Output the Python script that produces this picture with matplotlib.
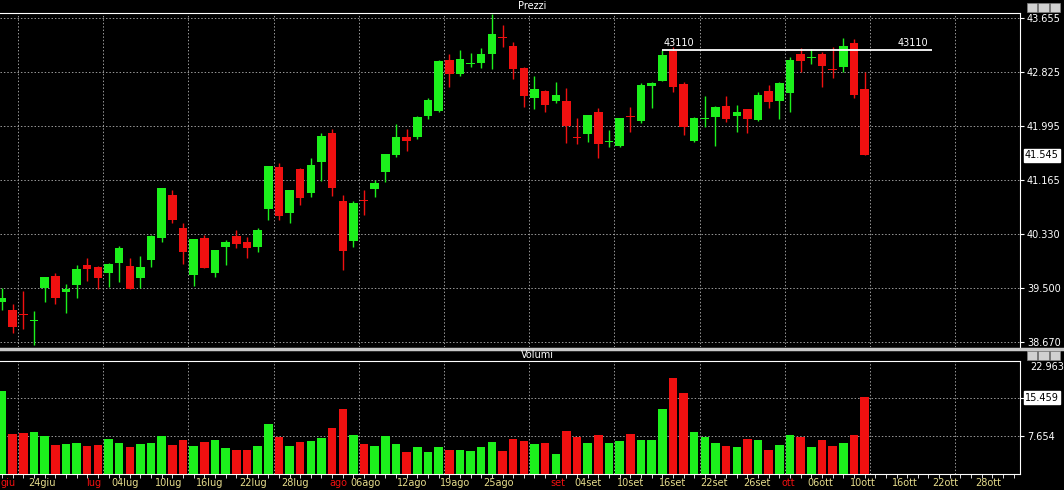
import matplotlib
matplotlib.use("Agg")
import matplotlib.pyplot as plt
import numpy as np

# OHLC per trading day (index 0..81)
opens = [39.286, 39.163, 39.10, 39.00, 39.497, 39.686, 39.440, 39.547, 39.860, 39.829,
         39.737, 39.890, 39.840, 39.660, 39.932, 40.266, 40.932, 40.429, 39.701, 40.266,
         39.737, 40.137, 40.296, 40.209, 40.137, 40.717, 41.368, 40.660, 41.327, 40.968,
         41.435, 41.890, 40.840, 40.229, 40.850, 41.024, 41.290, 41.547, 41.829, 41.829,
         42.147, 42.224, 43.009, 42.793, 42.940, 42.958, 43.096, 43.360, 43.229, 42.881,
         42.429, 42.532, 42.378, 42.383, 41.820, 41.866, 42.209, 41.745, 41.686, 42.140,
         42.070, 42.614, 42.690, 43.152, 42.640, 41.763, 42.105, 42.137, 42.301, 42.152,
         42.250, 42.086, 42.527, 42.383, 42.506, 43.096, 43.045, 43.096, 42.860, 42.906,
         43.266, 42.563]
closes = [39.347, 38.897, 39.09, 39.01, 39.666, 39.352, 39.481, 39.798, 39.798, 39.660,
          39.870, 40.121, 39.486, 39.829, 40.301, 41.035, 40.547, 40.060, 40.255, 39.814,
          40.086, 40.209, 40.174, 40.121, 40.394, 41.378, 40.614, 41.009, 40.890, 41.393,
          41.840, 41.044, 40.075, 40.804, 40.835, 41.112, 41.558, 41.820, 41.767, 42.137,
          42.393, 42.993, 42.793, 43.024, 42.955, 43.101, 43.404, 43.350, 42.866, 42.455,
          42.563, 42.316, 42.470, 41.994, 41.810, 42.158, 41.716, 41.750, 42.112, 42.130,
          42.624, 42.660, 43.086, 42.589, 41.983, 42.112, 42.115, 42.290, 42.101, 42.209,
          42.101, 42.470, 42.367, 42.650, 43.009, 42.998, 43.055, 42.917, 42.855, 43.224,
          42.470, 41.545]
highs = [39.50, 39.255, 39.46, 39.152, 39.67, 39.727, 39.563, 39.855, 39.958, 39.84,
         39.88, 40.147, 39.958, 39.993, 40.31, 41.04, 41.016, 40.497, 40.26, 40.317,
         40.09, 40.24, 40.393, 40.29, 40.43, 41.38, 41.42, 41.01, 41.343, 41.506,
         41.89, 41.943, 40.932, 40.844, 41.009, 41.163, 41.56, 42.02, 41.943, 42.14,
         42.42, 43.01, 43.096, 43.163, 43.112, 43.189, 43.717, 43.548, 43.281, 42.906,
         42.767, 42.54, 42.675, 42.573, 42.112, 42.16, 42.266, 41.932, 42.12, 42.281,
         42.65, 42.675, 43.163, 43.214, 42.675, 42.137, 42.455, 42.30, 42.46, 42.32,
         42.26, 42.52, 42.624, 42.675, 43.06, 43.189, 43.174, 43.137, 43.214, 43.343,
         43.327, 42.829]
lows = [39.16, 38.804, 38.87, 38.62, 39.29, 39.25, 39.112, 39.343, 39.609, 39.486,
        39.521, 39.598, 39.48, 39.497, 39.829, 40.214, 40.497, 39.866, 39.537, 39.81,
        39.675, 39.855, 40.112, 39.967, 40.05, 40.547, 40.547, 40.506, 40.778, 40.906,
        41.152, 40.917, 39.778, 40.127, 40.624, 40.897, 41.137, 41.52, 41.613, 41.793,
        42.10, 42.21, 42.598, 42.763, 42.897, 42.881, 42.866, 43.214, 42.712, 42.29,
        42.25, 42.214, 42.352, 41.737, 41.717, 41.752, 41.497, 41.665, 41.665, 41.906,
        42.035, 42.275, 42.68, 42.521, 41.855, 41.75, 41.983, 41.686, 42.05, 41.906,
        41.89, 42.07, 42.266, 42.096, 42.214, 42.829, 42.947, 42.589, 42.737, 42.82,
        42.429, 41.54]
volumes = [16.8, 8.2, 8.4, 8.5, 7.6, 5.9, 6.1, 6.3, 5.6, 5.9,
           7.1, 6.3, 5.5, 6.1, 6.3, 7.6, 5.9, 6.8, 5.7, 6.4,
           6.8, 5.3, 4.9, 4.9, 5.7, 10.1, 7.4, 5.6, 6.4, 6.6,
           7.2, 9.4, 13.2, 7.8, 6.1, 5.7, 7.6, 6.1, 4.5, 5.5,
           4.5, 5.5, 4.9, 4.9, 4.7, 5.5, 6.4, 4.7, 7.0, 6.6,
           6.1, 6.2, 4.1, 8.8, 7.4, 6.2, 8.0, 6.2, 6.6, 8.2,
           6.8, 6.8, 13.1, 19.5, 16.5, 8.5, 7.4, 6.2, 5.7, 5.5,
           7.0, 6.9, 4.9, 5.9, 8.0, 7.4, 5.5, 6.8, 5.7, 6.2,
           8.0, 15.5]

price_ticks = [38.670, 39.500, 40.330, 41.165, 41.995, 42.825, 43.655]
vol_ticks = [7.654, 15.459]
vol_top_label = 22.963
last_price = 41.545
last_volume = 15.459
level = 43.163
level_label = "43110"
level_span = [62, 87.3]

date_labels = ["giu", "24giu", "lug", "04lug", "10lug", "16lug", "22lug", "28lug",
               "ago", "06ago", "12ago", "19ago", "25ago", "set", "04set", "10set",
               "16set", "22set", "26set", "ott", "06ott", "10ott", "16ott", "22ott", "28ott"]
date_pos = [0.6, 3.75, 8.6, 11.6, 15.6, 19.5, 23.6, 27.5, 31.6, 34.1, 38.5, 42.5,
            46.6, 52.2, 55.0, 59.0, 63.0, 66.9, 70.9, 73.8, 76.8, 80.8, 84.8, 88.6, 92.6]
month_labels = {"giu", "lug", "ago", "set", "ott"}

GREEN = "#1cf01c"
RED = "#f01010"
GRID = "#9a9a9a"
DATE = "#e6dc8c"

o = np.array(opens)
c = np.array(closes)
x = np.arange(len(o))
up = c >= o
cols = np.where(up, GREEN, RED)

fig = plt.figure(figsize=(10.64, 4.9), dpi=100, facecolor="black")
ax = fig.add_axes([0, 0.2918, 0.9586, 0.6817], facecolor="black")
axv = fig.add_axes([0, 0.0327, 0.9586, 0.2306], facecolor="black", sharex=ax)

# candles
ax.vlines(x, lows, highs, colors=cols, linewidth=1, zorder=3)
body = np.maximum(np.abs(c - o), 0.012)
ax.bar(x, body, bottom=np.minimum(o, c), width=0.8, color=cols, zorder=4)
ax.hlines(level, *level_span, color="white", linewidth=1.3, zorder=5)
ax.text(level_span[0] + 0.1, level + 0.03, level_label, color="white", fontsize=7, va="bottom")
ax.text(level_span[1] - 0.3, level + 0.03, level_label, color="white", fontsize=7,
        va="bottom", ha="right")

axv.bar(x, volumes, width=0.8, color=cols, zorder=3)

vgrid = np.arange(1.5, 96, 8)
for a in (ax, axv):
    a.set_xlim(-0.19, 95.59)
    for g in vgrid:
        a.axvline(g, color=GRID, linestyle=(0, (1.5, 2)), linewidth=0.7, zorder=1)
    a.yaxis.tick_right()
    a.tick_params(axis="y", colors="white", labelsize=7, length=3, pad=2)
    for s in ("left", "bottom"):
        a.spines[s].set_visible(False)
    for s in ("top", "right"):
        a.spines[s].set_color("white")

ax.set_ylim(38.594, 43.732)
ax.set_yticks(price_ticks)
ax.set_yticklabels([f"{t:.3f}" for t in price_ticks])
for t in price_ticks:
    ax.axhline(t, color=GRID, linestyle=(0, (1.5, 2)), linewidth=0.7, zorder=1)
ax.tick_params(axis="x", bottom=False, labelbottom=False)
ax.text(1.005, (last_price - 38.594) / (43.732 - 38.594), f"{last_price:.3f}",
        transform=ax.transAxes, fontsize=7, color="black", va="center", ha="left",
        bbox=dict(boxstyle="square,pad=0.15", fc="white", ec="white"), clip_on=False)

axv.set_ylim(0, 22.9)
axv.set_yticks(vol_ticks)
axv.set_yticklabels([f"{t:.3f}" for t in vol_ticks])
for t in vol_ticks:
    axv.axhline(t, color=GRID, linestyle=(0, (1.5, 2)), linewidth=0.7, zorder=1)
axv.text(1.01, 0.95, f"{vol_top_label:.3f}", transform=axv.transAxes, fontsize=7,
         color="white", va="center", ha="left")
axv.text(1.005, last_volume / 22.9, f"{last_volume:.3f}", transform=axv.transAxes,
         fontsize=7, color="black", va="center", ha="left",
         bbox=dict(boxstyle="square,pad=0.15", fc="white", ec="white"), clip_on=False)
axv.spines["bottom"].set_visible(True)
axv.spines["bottom"].set_color("white")
axv.set_xticks(np.arange(0, 96))
axv.set_xticklabels([])
axv.tick_params(axis="x", colors="white", length=3, width=0.6)
for lab, p in zip(date_labels, date_pos):
    axv.text(p, -0.04, lab, transform=axv.get_xaxis_transform(), fontsize=7,
             color=RED if lab in month_labels else DATE, ha="center", va="top")

# panel titles and separators
fig.text(0.5, 0.988, "Prezzi", color="white", fontsize=7, ha="center", va="center")
fig.text(0.505, 0.276, "Volumi", color="white", fontsize=7, ha="center", va="center")
fig.add_artist(plt.Line2D([0, 1], [0.2878, 0.2878], color="#c8c8c8", linewidth=2.5))
for yy in (0.976, 0.266):
    for k in range(3):
        fig.add_artist(plt.Rectangle((0.9655 + k * 0.0105, yy), 0.0095, 0.018,
                                     fc="#d0d0d0", ec="#808080", lw=0.5))

fig.savefig("out.png", dpi=100, facecolor="black")
